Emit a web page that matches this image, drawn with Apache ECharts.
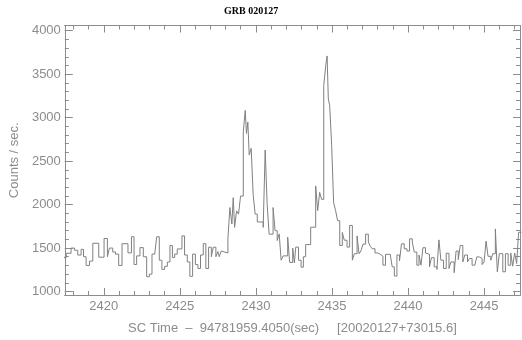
<!DOCTYPE html>
<html><head><meta charset="utf-8">
<script src="https://cdn.jsdelivr.net/npm/echarts@6/dist/echarts.min.js"></script>
<style>html,body{margin:0;padding:0;background:#fff}#c{width:522px;height:340px}</style>
</head><body><div id="c"></div>
<script>
const chartTitle = 'GRB 020127';
const xName = 'SC Time  \u2013  94781959.4050(sec)     [20020127+73015.6]';
const yName = 'Counts / sec.';

// left edges of each step (s), plus the final right edge
const timeEdges = [
2417.31,2417.53,2417.85,2418.08,2418.29,2418.51,2418.67,2418.84,2419.06,2419.28,
2419.67,2420.02,2420.24,2420.37,2420.59,2420.77,2420.98,2421.20,2421.59,2421.82,
2421.99,2422.16,2422.38,2422.60,2422.82,2423.00,2423.17,2423.35,2423.48,2423.65,
2423.82,2424.00,2424.18,2424.35,2424.51,2424.66,2424.83,2425.14,2425.31,2425.49,
2425.66,2425.84,2426.02,2426.19,2426.36,2426.54,2426.71,2426.89,2427.07,2427.20,
2427.37,2427.50,2427.59,2427.72,2427.85,2428.16,2428.29,2428.42,2428.51,2428.60,
2428.73,2428.86,2428.99,2429.17,2429.30,2429.38,2429.47,2429.56,2429.69,2429.82,
2429.95,2430.09,2430.48,2430.61,2430.74,2430.87,2431.13,2431.26,2431.40,2431.53,
2431.66,2431.79,2432.09,2432.22,2432.42,2432.53,2432.62,2432.80,2432.97,2433.12,
2433.27,2433.60,2433.93,2434.06,2434.19,2434.32,2434.46,2434.59,2434.68,2434.76,
2434.85,2434.98,2435.11,2435.24,2435.37,2435.51,2435.68,2435.81,2435.99,2436.16,
2436.34,2436.47,2436.65,2436.78,2436.91,2437.04,2437.21,2437.39,2437.52,2437.65,
2437.83,2438.00,2438.18,2438.35,2438.52,2438.83,2438.96,2439.10,2439.27,2439.44,
2439.57,2439.75,2439.93,2440.10,2440.28,2440.41,2440.58,2440.72,2440.85,2440.98,
2441.15,2441.28,2441.41,2441.54,2441.72,2441.90,2442.03,2442.16,2442.33,2442.51,
2442.69,2442.82,2443.03,2443.16,2443.30,2443.43,2443.60,2443.73,2443.91,2444.04,
2444.21,2444.39,2444.52,2444.69,2444.87,2445.00,2445.13,2445.26,2445.44,2445.57,
2445.74,2445.87,2446.00,2446.23,2446.40,2446.58,2446.75,2446.88,2447.01,2447.14,
2447.27,2447.46
];
// counts/sec in each step
const counts = [
1390,1440,1500,1475,1420,1485,1400,1300,1350,1555,
1395,1610,1400,1500,1455,1430,1300,1550,1445,1630,
1310,1410,1505,1400,1170,1200,1430,1410,1630,1360,
1255,1290,1340,1530,1390,1430,1490,1640,1420,1340,
1175,1430,1310,1265,1420,1550,1265,1510,1400,1510,
1400,1460,1400,1466,1443,1606,1966,1776,2080,1738,
1928,1890,2098,2837,3083,2818,2950,2571,2647,2117,
1890,1800,1738,2628,2004,1660,1966,1700,1587,1663,
1360,1410,1625,1335,1500,1330,1511,1360,1280,1400,
1540,1740,2215,1930,2140,2060,3370,3600,3710,3215,
3140,2680,2020,1930,1815,1530,1680,1590,1511,1760,
1360,1435,1640,1435,1470,1545,1660,1570,1520,1492,
1443,1428,1405,1303,1428,1443,1284,1178,1420,1352,
1549,1492,1466,1606,1568,1454,1303,1420,1303,1504,
1443,1428,1284,1390,1284,1254,1594,1360,1265,1440,
1265,1340,1216,1466,1367,1530,1340,1420,1340,1380,
1303,1292,1398,1380,1310,1340,1580,1405,1360,1435,
1720,1227,1435,1227,1435,1303,1443,1292,1443,1322,
1682
];
const xMajorTicks = [2420,2425,2430,2435,2440,2445];
const xMinorTicks = [2418,2419,2420,2421,2422,2423,2424,2425,2426,2427,2428,2429,2430,2431,2432,2433,2434,2435,2436,2437,2438,2439,2440,2441,2442,2443,2444,2445,2446,2447];
const yMajorTicks = [1000,1500,2000,2500,3000,3500,4000];
const yMinorTicks = [1000,1100,1200,1300,1400,1500,1600,1700,1800,1900,2000,2100,2200,2300,2400,2500,2600,2700,2800,2900,3000,3100,3200,3300,3400,3500,3600,3700,3800,3900,4000];

const AX = '#8c8c8c', TXT = '#8c8c8c', LINE = '#808080', FONT = 'Liberation Sans';
const X_MIN = 2417.44, X_MAX = 2447.36, Y_MIN = 960, Y_MAX = 4060;
const plain = v => String(Math.round(v));

function xAx(pos, ticks, len, withLabel) {
  const a = {
    type: 'value', position: pos, min: X_MIN, max: X_MAX,
    axisLine: {show: true, onZero: false, lineStyle: {color: AX, width: 1}},
    axisTick: {show: true, inside: true, length: len, customValues: ticks, lineStyle: {color: AX, width: 1}},
    axisLabel: {show: false},
    splitLine: {show: false}
  };
  if (withLabel) {
    a.axisLabel = {show: true, customValues: xMajorTicks, formatter: plain, color: TXT, fontSize: 13, fontFamily: FONT, margin: 5};
    a.name = xName; a.nameLocation = 'middle'; a.nameGap = 27;
    a.nameTextStyle = {color: TXT, fontSize: 13, fontFamily: FONT};
  }
  return a;
}
function yAx(pos, ticks, len, withLabel) {
  const a = {
    type: 'value', position: pos, min: Y_MIN, max: Y_MAX,
    axisLine: {show: true, onZero: false, lineStyle: {color: AX, width: 1}},
    axisTick: {show: true, inside: true, length: len, customValues: ticks, lineStyle: {color: AX, width: 1}},
    axisLabel: {show: false},
    splitLine: {show: false}
  };
  if (withLabel) {
    a.axisLabel = {show: true, customValues: yMajorTicks, formatter: plain, color: TXT, fontSize: 13, fontFamily: FONT, margin: 4};
    a.name = yName; a.nameLocation = 'middle'; a.nameGap = 42; a.nameRotate = 90;
    a.nameTextStyle = {color: TXT, fontSize: 13, fontFamily: FONT};
  }
  return a;
}

const seriesData = timeEdges.map((t, i) => [t, counts[Math.min(i, counts.length - 1)]]);

const chart = echarts.init(document.getElementById('c'), null, {renderer: 'canvas'});
chart.setOption({
  animation: false,
  backgroundColor: '#fff',
  title: {text: chartTitle, left: 224, top: 6, padding: 0,
    textStyle: {fontSize: 10, fontWeight: 'bold', fontFamily: 'Liberation Serif', color: '#000'}},
  grid: {left: 64, right: 2, top: 25.5, bottom: 41, containLabel: false},
  xAxis: [
    xAx('bottom', xMajorTicks, 7, true),
    xAx('bottom', xMinorTicks, 4, false),
    xAx('top', xMajorTicks, 7, false),
    xAx('top', xMinorTicks, 4, false)
  ],
  yAxis: [
    yAx('left', yMajorTicks, 8, true),
    yAx('left', yMinorTicks, 4, false),
    yAx('right', yMajorTicks, 7, false),
    yAx('right', yMinorTicks, 4, false)
  ],
  series: [{
    type: 'line', xAxisIndex: 0, yAxisIndex: 0, step: 'end',
    data: seriesData, symbol: 'none', clip: true, sampling: null,
    lineStyle: {color: LINE, width: 1}
  }]
});
</script></body></html>
